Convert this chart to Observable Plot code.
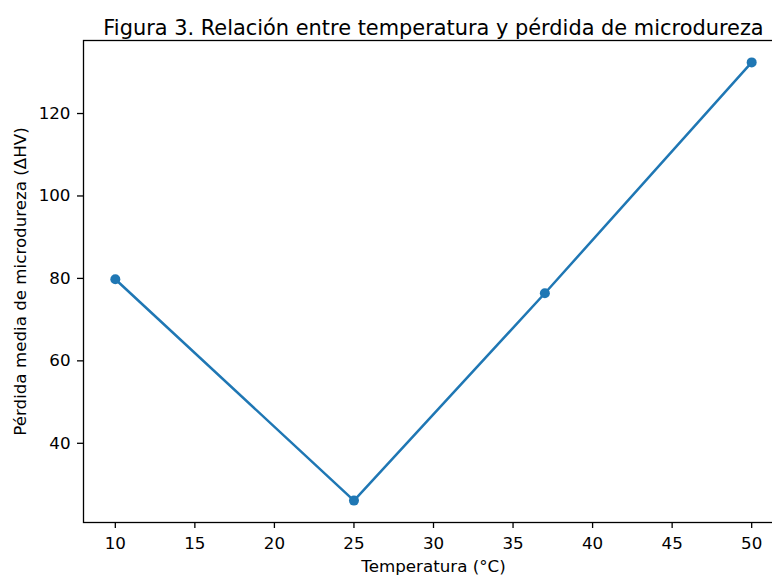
<!DOCTYPE html>
<html><head><meta charset="utf-8">
<script src="https://cdn.jsdelivr.net/npm/d3@7"></script>
<script src="https://cdn.jsdelivr.net/npm/@observablehq/plot@0.6"></script>
<style>body{margin:0;background:#fff;overflow:hidden}</style>
</head><body><div id="chart"></div>
<script>
const temperatures = [10, 25, 37, 50];
const hardnessLoss = [79.8, 26.1, 76.4, 132.4];
const xTicks = [10, 15, 20, 25, 30, 35, 40, 45, 50];
const yTicks = [40, 60, 80, 100, 120];
const titleText = "Figura 3. Relación entre temperatura y pérdida de microdureza";
const xLabel = "Temperatura (°C)";
const yLabel = "Pérdida media de microdureza (ΔHV)";

const data = temperatures.map((t, i) => ({t, v: hardnessLoss[i]}));
const pad = (lo, hi) => { const p = 0.05 * (hi - lo); return [lo - p, hi + p]; };
const xDomain = pad(d3.min(temperatures), d3.max(temperatures));
const yDomain = pad(d3.min(hardnessLoss), d3.max(hardnessLoss));
const blue = "#1f77b4";

const chart = Plot.plot({
  width: 772,
  height: 578,
  marginLeft: 83,
  marginRight: -11,
  marginTop: 40,
  marginBottom: 56,
  style: {fontFamily: "DejaVu Sans", fontSize: "16.7px", color: "#000", background: "#fff"},
  x: {domain: xDomain},
  y: {domain: yDomain},
  marks: [
    Plot.frame({stroke: "#000", strokeWidth: 1.3}),
    Plot.axisX({ticks: xTicks, tickSize: 6, tickPadding: 9, label: null, fontSize: 16.7, strokeWidth: 1.3, tickFormat: d => d}),
    Plot.axisY({ticks: yTicks, tickSize: 6, tickPadding: 7, label: null, fontSize: 16.7, strokeWidth: 1.3, tickFormat: d => d}),
    Plot.line(data, {x: "t", y: "v", stroke: blue, strokeWidth: 2.5}),
    Plot.dot(data, {x: "t", y: "v", r: 5, fill: blue, stroke: "none"}),
    Plot.text([titleText], {text: d => d, frameAnchor: "top", dy: -20, fontSize: 20.9, fill: "#000"}),
    Plot.text([xLabel], {text: d => d, frameAnchor: "bottom", dy: 49, fontSize: 16.7, fill: "#000"}),
    Plot.text([yLabel], {text: d => d, frameAnchor: "left", textAnchor: "middle", dx: -63, rotate: -90, fontSize: 16.7, fill: "#000"})
  ]
});
document.getElementById("chart").appendChild(chart);
</script>
</body></html>
